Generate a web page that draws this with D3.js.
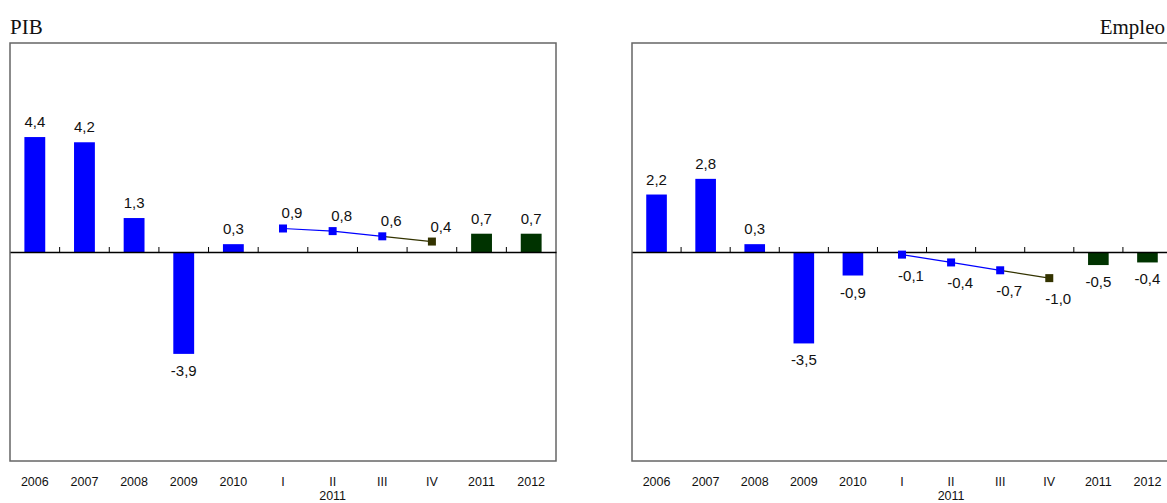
<!DOCTYPE html>
<html>
<head>
<meta charset="utf-8">
<script src="https://cdn.jsdelivr.net/npm/d3@7"></script>
<style>
  body { margin: 0; background: #fff; overflow: hidden; }
  svg { display: block; }
</style>
</head>
<body>
<script>
// categories on the x axis (annual, 2011 quarters, forecasts)
const categories = ["2006", "2007", "2008", "2009", "2010", "I", "II", "III", "IV", "2011", "2012"];
const annualCats = ["2006", "2007", "2008", "2009", "2010"];
const quarterCats = ["I", "II", "III", "IV"];
const forecastCats = ["2011", "2012"];

const pibAnnual = [4.4, 4.2, 1.3, -3.9, 0.3];
const pibQuarters = [0.9, 0.8, 0.6, 0.4];
const pibForecast = [0.7, 0.7];

const empleoAnnual = [2.2, 2.8, 0.3, -3.5, -0.9];
const empleoQuarters = [-0.1, -0.4, -0.7, -1.0];
const empleoForecast = [-0.5, -0.4];

const W = 1167, H = 503;
const blue = "#0000ff", green = "#003300", olive = "#333300";
const fmt = v => v.toFixed(1).replace(".", ",");

const svg = d3.select("body").append("svg")
  .attr("width", W).attr("height", H);

function panel(opt) {
  const x = d3.scaleBand().domain(categories).range([opt.x0, opt.x1]);
  const y = d3.scaleLinear().domain([-8, 8]).range([461, 43]);
  const g = svg.append("g");

  g.append("text")
    .attr("x", opt.titleX).attr("y", 34)
    .attr("text-anchor", opt.titleAnchor)
    .style("font-family", "'Liberation Serif', serif")
    .style("font-size", "21px")
    .attr("fill", "#111")
    .text(opt.title);

  g.append("rect")
    .attr("x", opt.x0).attr("y", y(8))
    .attr("width", opt.x1 - opt.x0).attr("height", y(-8) - y(8))
    .attr("fill", "none").attr("stroke", "#666").attr("stroke-width", 1.5);

  const bw = x.bandwidth() * 0.42;
  const bars = annualCats.map((c, i) => ({c, v: opt.annual[i], col: blue}))
    .concat(forecastCats.map((c, i) => ({c, v: opt.forecast[i], col: green})));

  g.selectAll("rect.bar").data(bars).enter().append("rect")
    .attr("class", "bar")
    .attr("x", d => x(d.c) + x.bandwidth() / 2 - bw / 2)
    .attr("y", d => y(Math.max(0, d.v)))
    .attr("width", bw)
    .attr("height", d => Math.abs(y(d.v) - y(0)))
    .attr("fill", d => d.col);

  // zero axis with upward ticks between categories
  const axis = d3.axisTop(x).tickSize(0).tickFormat("");
  g.append("g").attr("transform", `translate(0,${y(0)})`).call(axis)
    .call(a => a.select(".domain").attr("stroke", "#000").attr("stroke-width", 1.5));
  g.selectAll("line.sep").data(categories.slice(1)).enter().append("line")
    .attr("class", "sep")
    .attr("x1", d => x(d)).attr("x2", d => x(d))
    .attr("y1", y(0)).attr("y2", y(0) - 5)
    .attr("stroke", "#000").attr("stroke-width", 1);

  // quarterly line
  const pts = quarterCats.map((c, i) => ({c, v: opt.quarters[i], col: i < 3 ? blue : olive}));
  const cx = d => x(d.c) + x.bandwidth() / 2;
  for (let i = 0; i < pts.length - 1; i++) {
    g.append("line")
      .attr("x1", cx(pts[i])).attr("y1", y(pts[i].v))
      .attr("x2", cx(pts[i + 1])).attr("y2", y(pts[i + 1].v))
      .attr("stroke", i < 2 ? blue : olive).attr("stroke-width", 1.2);
  }
  g.selectAll("rect.mk").data(pts).enter().append("rect")
    .attr("class", "mk")
    .attr("x", d => cx(d) - 4).attr("y", d => y(d.v) - 4)
    .attr("width", 8).attr("height", 8)
    .attr("fill", d => d.col);

  const lbl = g.append("g")
    .style("font-family", "'Liberation Sans', Arial, sans-serif")
    .style("font-size", "15px").attr("fill", "#111")
    .attr("text-anchor", "middle");

  lbl.selectAll("text.bl").data(bars).enter().append("text")
    .attr("x", d => x(d.c) + x.bandwidth() / 2)
    .attr("y", d => d.v >= 0 ? y(d.v) - 10 : y(d.v) + 22)
    .text(d => fmt(d.v));

  lbl.selectAll("text.pl").data(pts).enter().append("text")
    .attr("x", d => cx(d) + 9)
    .attr("y", d => d.v >= 0 ? y(d.v) - 10 : y(d.v) + 26)
    .text(d => fmt(d.v));

  // category labels
  const tl = g.append("g")
    .style("font-family", "'Liberation Sans', Arial, sans-serif")
    .style("font-size", "12.5px").attr("fill", "#111")
    .attr("text-anchor", "middle");
  tl.selectAll("text").data(categories).enter().append("text")
    .attr("x", d => x(d) + x.bandwidth() / 2)
    .attr("y", 486)
    .text(d => d);
  tl.append("text")
    .attr("x", x("II") + x.bandwidth() / 2)
    .attr("y", 500)
    .text("2011");
}

panel({title: "PIB", titleX: 10, titleAnchor: "start", x0: 10, x1: 556,
  annual: pibAnnual, quarters: pibQuarters, forecast: pibForecast});
panel({title: "Empleo", titleX: 1165, titleAnchor: "end", x0: 632, x1: 1172,
  annual: empleoAnnual, quarters: empleoQuarters, forecast: empleoForecast});
</script>
</body>
</html>
